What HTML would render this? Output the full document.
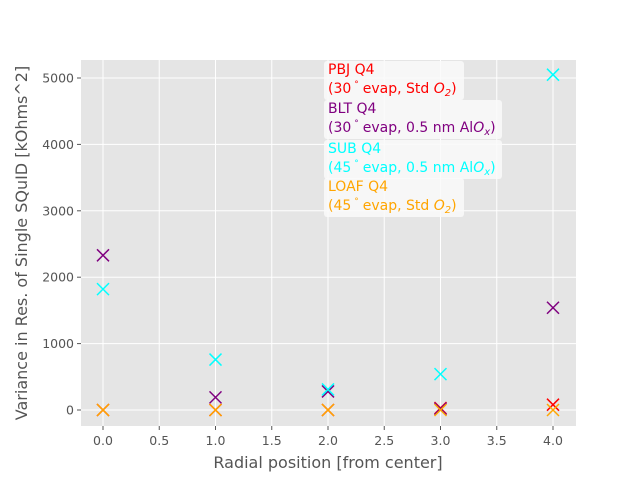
<!DOCTYPE html>
<html><head><meta charset="utf-8"><style>
body{margin:0;background:#fff;}
svg{display:block;font-family:"DejaVu Sans","Liberation Sans",sans-serif;}
</style></head><body>
<svg id="chart" width="640" height="480">
<rect x="81" y="60" width="495" height="366" fill="#e5e5e5"/>
<g id="grid"></g><g id="ticks"></g><g id="marks"></g>
<text x="328" y="468" text-anchor="middle" font-size="16" fill="#555">Radial position [from center]</text>
<text transform="translate(27,243) rotate(-90)" text-anchor="middle" font-size="16" fill="#555">Variance in Res. of Single SQuID [kOhms^2]</text>
<g id="legend" font-size="14"></g>
</svg>
<script>
const xs=[0,1,2,3,4];
const pbj=[0,0,0,30,80];
const blt=[2330,190,280,20,1540];
const sub=[1820,760,310,540,5050];
const loaf=[0,0,0,0,0];
const xTicks=[0,0.5,1,1.5,2,2.5,3,3.5,4];
const yTicks=[0,1000,2000,3000,4000,5000];
const X=v=>103+v*112.5, Y=v=>410-v*0.0664;
const NS="http://www.w3.org/2000/svg";
function mk(t,a,p){const e=document.createElementNS(NS,t);for(const k in a)e.setAttribute(k,a[k]);p.appendChild(e);return e;}
const g=document.getElementById('grid'),tk=document.getElementById('ticks'),m=document.getElementById('marks');
xTicks.forEach(v=>{const x=X(v);
const l=mk('line',{x1:x,x2:x,y1:60,y2:426,stroke:'#fff','stroke-width':1},g);


mk('line',{x1:x,x2:x,y1:426,y2:430,stroke:'#555'},tk);
const t=mk('text',{x:x,y:445,'text-anchor':'middle','font-size':12.5,fill:'#555'},tk);t.textContent=v.toFixed(1);

});
yTicks.forEach(v=>{const y=Y(v);
const l=mk('line',{x1:81,x2:576,y1:y,y2:y,stroke:'#fff','stroke-width':1},g);


mk('line',{x1:77,x2:81,y1:y,y2:y,stroke:'#555'},tk);
const t=mk('text',{x:74,y:y+4.5,'text-anchor':'end','font-size':12.5,fill:'#555'},tk);t.textContent=v;

});
const series=[[pbj,'#ff0000','pbj'],[blt,'#800080','blt'],[sub,'#00ffff','sub'],[loaf,'#ffa500','loaf']];
series.forEach(([d,c,n])=>{d.forEach((v,i)=>{const x=X(xs[i]),y=Y(v),r=6;
const p=mk('path',{d:`M${x-r},${y-r}L${x+r},${y+r}M${x-r},${y+r}L${x+r},${y-r}`,stroke:c,'stroke-width':1.5,fill:'none'},m);

});});
const lg=document.getElementById('legend');
const boxes=[
 [61,140,'#ff0000','PBJ Q4','(30','evap, Std ','O','2'],
 [100,178,'#800080','BLT Q4','(30','evap, 0.5 nm Al','O','x'],
 [140,178,'#00ffff','SUB Q4','(45','evap, 0.5 nm Al','O','x'],
 [178,140,'#ffa500','LOAF Q4','(45','evap, Std ','O','2']];
boxes.forEach(([y,w,c,t1,n,t2,o,s])=>{
const b=mk('rect',{x:324,y:y,width:w,height:39,rx:3,fill:'rgba(250,250,250,0.85)'},lg);


const a=mk('text',{x:328,y:y+13,fill:c},lg);a.textContent=t1;


const bt=mk('text',{x:328,y:y+32,fill:c},lg);


bt.innerHTML=n+'<tspan font-size="9" dx="3" dy="-6">°</tspan><tspan dx="4" dy="6">'+t2+'</tspan><tspan font-style="italic">'+o+'</tspan><tspan font-size="10" dy="3" font-style="italic">'+s+'</tspan><tspan dy="-3">)</tspan>';});
</script>
</body></html>
